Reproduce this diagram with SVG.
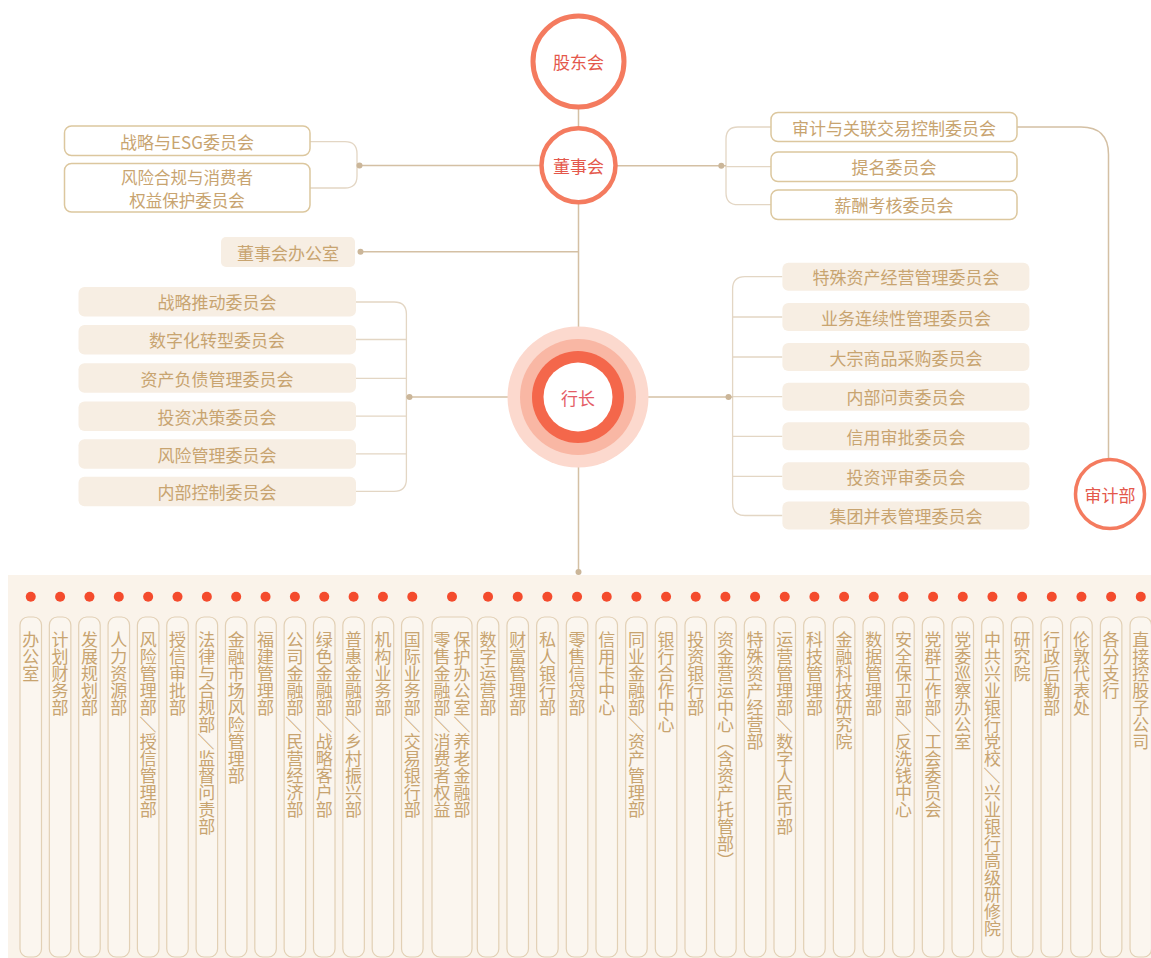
<svg xmlns="http://www.w3.org/2000/svg" width="1151" height="958" viewBox="0 0 1151 958">
<defs>
<style>
text{font-family:"Noto Sans CJK SC","Noto Sans",sans-serif;}
.t{fill:#c8a470;font-size:17px;text-anchor:middle;dominant-baseline:central;}
.t2{fill:#c8a470;font-size:16.5px;text-anchor:middle;dominant-baseline:central;}
.ct{fill:#e4584c;font-size:17px;text-anchor:middle;dominant-baseline:central;}
.ob{fill:#ffffff;stroke:#dcc79e;stroke-width:1.5;}
.fb{fill:#f7eee3;}
.ln{fill:none;stroke:#d4c0a4;stroke-width:1.5;}
.br{fill:none;stroke:#e3d6c4;stroke-width:1.3;}
.dt{fill:#cbb699;}
.col{fill:#fbf6ef;stroke:#e2d0b5;stroke-width:1.2;}
.rd{fill:#f44b2d;}
.v{fill:#c8a470;font-size:17px;writing-mode:vertical-rl;text-orientation:mixed;}
.s{text-orientation:sideways;}
.ring{fill:#ffffff;stroke:#f47b5f;}
</style>
</defs>
<rect x="0" y="0" width="1151" height="958" fill="#ffffff"/>
<rect x="8" y="575" width="1143" height="383" fill="#faf3ea"/>

<g id="connectors">
<line class="ln" x1="578.5" y1="105" x2="578.5" y2="572"/>
<circle class="dt" cx="578.5" cy="572" r="3"/>
<path class="br" d="M310,141.7 H345 Q357,141.7 357,153.7 V176 Q357,188 345,188 H310"/>
<line class="ln" x1="359.5" y1="165.5" x2="541" y2="165.5"/>
<circle class="dt" cx="359.5" cy="165.5" r="3"/>
<path class="br" d="M771,127 H738 Q726,127 726,139 V192.7 Q726,204.7 738,204.7 H771 M726,166.7 H771"/>
<line class="ln" x1="615" y1="165.7" x2="726" y2="165.7"/>
<circle class="dt" cx="721.3" cy="165.7" r="3"/>
<line class="ln" x1="360.5" y1="251.7" x2="578.5" y2="251.7"/>
<circle class="dt" cx="360.5" cy="251.7" r="3"/>
<path class="ln" d="M1017,127 H1081 Q1108.5,127 1108.5,154.5 V460"/>
<path class="br" d="M356,302 H394 Q406.4,302 406.4,314 V479 Q406.4,491.3 394,491.3 H356 M356,339.5 H406.4 M356,378.3 H406.4 M356,416.2 H406.4 M356,453.8 H406.4"/>
<line class="ln" x1="406.4" y1="397" x2="510" y2="397"/>
<circle class="dt" cx="409.5" cy="397" r="3"/>
<path class="br" d="M782.4,276.7 H745 Q732.6,276.7 732.6,289 V503 Q732.6,515.5 745,515.5 H782.4 M732.6,317 H782.4 M732.6,357 H782.4 M732.6,396.7 H782.4 M732.6,436.3 H782.4 M732.6,476.3 H782.4"/>
<line class="ln" x1="646" y1="397" x2="732.6" y2="397"/>
<circle class="dt" cx="728.5" cy="397" r="3"/>
</g>

<g id="gudonghui">
<circle class="ring" cx="578.5" cy="61.5" r="45.5" stroke-width="5"/>
<text class="ct" x="578.5" y="61.5">股东会</text>
</g>
<g id="dongshihui">
<circle class="ring" cx="578.5" cy="165.3" r="37" stroke-width="4.5"/>
<text class="ct" x="578.5" y="165.3">董事会</text>
</g>
<g id="hangzhang">
<circle cx="578" cy="397" r="70.5" fill="#fcd9ce"/>
<circle cx="578" cy="397" r="58" fill="#f9b7a4"/>
<circle cx="578" cy="397" r="46" fill="#f4674b"/>
<circle cx="578" cy="397" r="34.5" fill="#ffffff"/>
<text class="ct" x="578" y="397" style="fill:#e45c66">行长</text>
</g>
<g id="shenjibu">
<circle class="ring" cx="1110" cy="494" r="34.5" stroke-width="3.5"/>
<text class="ct" x="1110" y="494">审计部</text>
</g>

<g id="board-committees-left">
<rect class="ob" x="64.5" y="126" width="245.5" height="29.5" rx="7"/>
<text class="t" x="187" y="141">战略与ESG委员会</text>
<rect class="ob" x="64.5" y="163.5" width="245.5" height="48.5" rx="7"/>
<text class="t2" x="187" y="176.5">风险合规与消费者</text>
<text class="t2" x="187" y="199.5">权益保护委员会</text>
</g>
<g id="board-committees-right">
<rect class="ob" x="771" y="112.5" width="246" height="29" rx="7"/>
<text class="t" x="894" y="127">审计与关联交易控制委员会</text>
<rect class="ob" x="771" y="152" width="246" height="29.5" rx="7"/>
<text class="t" x="894" y="166.7">提名委员会</text>
<rect class="ob" x="771" y="190" width="246" height="29.5" rx="7"/>
<text class="t" x="894" y="204.7">薪酬考核委员会</text>
</g>
<g id="board-office">
<rect class="fb" x="221" y="237" width="134" height="30" rx="5"/>
<text class="t" x="288" y="252">董事会办公室</text>
</g>

<g id="president-committees-left">
<rect class="fb" x="78.5" y="287" width="277.5" height="29.5" rx="6"/>
<text class="t" x="217" y="301.7">战略推动委员会</text>
<rect class="fb" x="78.5" y="325" width="277.5" height="29.5" rx="6"/>
<text class="t" x="217" y="339.7">数字化转型委员会</text>
<rect class="fb" x="78.5" y="363.3" width="277.5" height="29.5" rx="6"/>
<text class="t" x="217" y="378">资产负债管理委员会</text>
<rect class="fb" x="78.5" y="401.5" width="277.5" height="29.5" rx="6"/>
<text class="t" x="217" y="416.2">投资决策委员会</text>
<rect class="fb" x="78.5" y="439.3" width="277.5" height="29.5" rx="6"/>
<text class="t" x="217" y="454">风险管理委员会</text>
<rect class="fb" x="78.5" y="476.7" width="277.5" height="29.5" rx="6"/>
<text class="t" x="217" y="491.4">内部控制委员会</text>
</g>
<g id="president-committees-right">
<rect class="fb" x="782.4" y="262.7" width="247" height="28" rx="6"/>
<text class="t" x="906" y="276.7">特殊资产经营管理委员会</text>
<rect class="fb" x="782.4" y="303" width="247" height="28" rx="6"/>
<text class="t" x="906" y="317">业务连续性管理委员会</text>
<rect class="fb" x="782.4" y="343" width="247" height="28" rx="6"/>
<text class="t" x="906" y="357">大宗商品采购委员会</text>
<rect class="fb" x="782.4" y="382.7" width="247" height="28" rx="6"/>
<text class="t" x="906" y="396.7">内部问责委员会</text>
<rect class="fb" x="782.4" y="422.3" width="247" height="28" rx="6"/>
<text class="t" x="906" y="436.3">信用审批委员会</text>
<rect class="fb" x="782.4" y="462.3" width="247" height="28" rx="6"/>
<text class="t" x="906" y="476.3">投资评审委员会</text>
<rect class="fb" x="782.4" y="501.5" width="247" height="28" rx="6"/>
<text class="t" x="906" y="515.5">集团并表管理委员会</text>
</g>

<g id="departments">
<g id="d1"><circle class="rd" cx="30.75" cy="596.7" r="5"/><rect class="col" x="20" y="617" width="21.5" height="340" rx="8"/><text class="v" x="30.75" y="631">办公室</text></g>
<g id="d2"><circle class="rd" cx="60.1" cy="596.7" r="5"/><rect class="col" x="49.35" y="617" width="21.5" height="340" rx="8"/><text class="v" x="60.1" y="631">计划财务部</text></g>
<g id="d3"><circle class="rd" cx="89.45" cy="596.7" r="5"/><rect class="col" x="78.7" y="617" width="21.5" height="340" rx="8"/><text class="v" x="89.45" y="631">发展规划部</text></g>
<g id="d4"><circle class="rd" cx="118.8" cy="596.7" r="5"/><rect class="col" x="108.05" y="617" width="21.5" height="340" rx="8"/><text class="v" x="118.8" y="631">人力资源部</text></g>
<g id="d5"><circle class="rd" cx="148.15" cy="596.7" r="5"/><rect class="col" x="137.4" y="617" width="21.5" height="340" rx="8"/><text class="v" x="148.15" y="631">风险管理部<tspan class="s">／</tspan>授信管理部</text></g>
<g id="d6"><circle class="rd" cx="177.5" cy="596.7" r="5"/><rect class="col" x="166.75" y="617" width="21.5" height="340" rx="8"/><text class="v" x="177.5" y="631">授信审批部</text></g>
<g id="d7"><circle class="rd" cx="206.85" cy="596.7" r="5"/><rect class="col" x="196.1" y="617" width="21.5" height="340" rx="8"/><text class="v" x="206.85" y="631">法律与合规部<tspan class="s">／</tspan>监督问责部</text></g>
<g id="d8"><circle class="rd" cx="236.2" cy="596.7" r="5"/><rect class="col" x="225.45" y="617" width="21.5" height="340" rx="8"/><text class="v" x="236.2" y="631">金融市场风险管理部</text></g>
<g id="d9"><circle class="rd" cx="265.55" cy="596.7" r="5"/><rect class="col" x="254.8" y="617" width="21.5" height="340" rx="8"/><text class="v" x="265.55" y="631">福建管理部</text></g>
<g id="d10"><circle class="rd" cx="294.9" cy="596.7" r="5"/><rect class="col" x="284.15" y="617" width="21.5" height="340" rx="8"/><text class="v" x="294.9" y="631">公司金融部<tspan class="s">／</tspan>民营经济部</text></g>
<g id="d11"><circle class="rd" cx="324.25" cy="596.7" r="5"/><rect class="col" x="313.5" y="617" width="21.5" height="340" rx="8"/><text class="v" x="324.25" y="631">绿色金融部<tspan class="s">／</tspan>战略客户部</text></g>
<g id="d12"><circle class="rd" cx="353.6" cy="596.7" r="5"/><rect class="col" x="342.85" y="617" width="21.5" height="340" rx="8"/><text class="v" x="353.6" y="631">普惠金融部<tspan class="s">／</tspan>乡村振兴部</text></g>
<g id="d13"><circle class="rd" cx="382.95" cy="596.7" r="5"/><rect class="col" x="372.2" y="617" width="21.5" height="340" rx="8"/><text class="v" x="382.95" y="631">机构业务部</text></g>
<g id="d14"><circle class="rd" cx="412.3" cy="596.7" r="5"/><rect class="col" x="401.55" y="617" width="21.5" height="340" rx="8"/><text class="v" x="412.3" y="631">国际业务部<tspan class="s">／</tspan>交易银行部</text></g>
<g id="d15"><circle class="rd" cx="452" cy="596.7" r="5"/><rect class="col" x="432" y="617" width="40" height="340" rx="8"/><text class="v" x="442" y="631">零售金融部<tspan class="s">／</tspan>消费者权益</text><text class="v" x="462" y="631">保护办公室<tspan class="s">／</tspan>养老金融部</text></g>
<g id="d16"><circle class="rd" cx="488.05" cy="596.7" r="5"/><rect class="col" x="477.3" y="617" width="21.5" height="340" rx="8"/><text class="v" x="488.05" y="631">数字运营部</text></g>
<g id="d17"><circle class="rd" cx="517.72" cy="596.7" r="5"/><rect class="col" x="506.97" y="617" width="21.5" height="340" rx="8"/><text class="v" x="517.72" y="631">财富管理部</text></g>
<g id="d18"><circle class="rd" cx="547.39" cy="596.7" r="5"/><rect class="col" x="536.64" y="617" width="21.5" height="340" rx="8"/><text class="v" x="547.39" y="631">私人银行部</text></g>
<g id="d19"><circle class="rd" cx="577.06" cy="596.7" r="5"/><rect class="col" x="566.31" y="617" width="21.5" height="340" rx="8"/><text class="v" x="577.06" y="631">零售信贷部</text></g>
<g id="d20"><circle class="rd" cx="606.73" cy="596.7" r="5"/><rect class="col" x="595.98" y="617" width="21.5" height="340" rx="8"/><text class="v" x="606.73" y="631">信用卡中心</text></g>
<g id="d21"><circle class="rd" cx="636.4" cy="596.7" r="5"/><rect class="col" x="625.65" y="617" width="21.5" height="340" rx="8"/><text class="v" x="636.4" y="631">同业金融部<tspan class="s">／</tspan>资产管理部</text></g>
<g id="d22"><circle class="rd" cx="666.07" cy="596.7" r="5"/><rect class="col" x="655.32" y="617" width="21.5" height="340" rx="8"/><text class="v" x="666.07" y="631">银行合作中心</text></g>
<g id="d23"><circle class="rd" cx="695.74" cy="596.7" r="5"/><rect class="col" x="684.99" y="617" width="21.5" height="340" rx="8"/><text class="v" x="695.74" y="631">投资银行部</text></g>
<g id="d24"><circle class="rd" cx="725.41" cy="596.7" r="5"/><rect class="col" x="714.66" y="617" width="21.5" height="340" rx="8"/><text class="v" x="725.41" y="631">资金营运中心（含资产托管部）</text></g>
<g id="d25"><circle class="rd" cx="755.08" cy="596.7" r="5"/><rect class="col" x="744.33" y="617" width="21.5" height="340" rx="8"/><text class="v" x="755.08" y="631">特殊资产经营部</text></g>
<g id="d26"><circle class="rd" cx="784.75" cy="596.7" r="5"/><rect class="col" x="774" y="617" width="21.5" height="340" rx="8"/><text class="v" x="784.75" y="631">运营管理部<tspan class="s">／</tspan>数字人民币部</text></g>
<g id="d27"><circle class="rd" cx="814.42" cy="596.7" r="5"/><rect class="col" x="803.67" y="617" width="21.5" height="340" rx="8"/><text class="v" x="814.42" y="631">科技管理部</text></g>
<g id="d28"><circle class="rd" cx="844.09" cy="596.7" r="5"/><rect class="col" x="833.34" y="617" width="21.5" height="340" rx="8"/><text class="v" x="844.09" y="631">金融科技研究院</text></g>
<g id="d29"><circle class="rd" cx="873.76" cy="596.7" r="5"/><rect class="col" x="863.01" y="617" width="21.5" height="340" rx="8"/><text class="v" x="873.76" y="631">数据管理部</text></g>
<g id="d30"><circle class="rd" cx="903.43" cy="596.7" r="5"/><rect class="col" x="892.68" y="617" width="21.5" height="340" rx="8"/><text class="v" x="903.43" y="631">安全保卫部<tspan class="s">／</tspan>反洗钱中心</text></g>
<g id="d31"><circle class="rd" cx="933.1" cy="596.7" r="5"/><rect class="col" x="922.35" y="617" width="21.5" height="340" rx="8"/><text class="v" x="933.1" y="631">党群工作部<tspan class="s">／</tspan>工会委员会</text></g>
<g id="d32"><circle class="rd" cx="962.77" cy="596.7" r="5"/><rect class="col" x="952.02" y="617" width="21.5" height="340" rx="8"/><text class="v" x="962.77" y="631">党委巡察办公室</text></g>
<g id="d33"><circle class="rd" cx="992.44" cy="596.7" r="5"/><rect class="col" x="981.69" y="617" width="21.5" height="340" rx="8"/><text class="v" x="992.44" y="631">中共兴业银行党校<tspan class="s">／</tspan>兴业银行高级研修院</text></g>
<g id="d34"><circle class="rd" cx="1022.11" cy="596.7" r="5"/><rect class="col" x="1011.36" y="617" width="21.5" height="340" rx="8"/><text class="v" x="1022.11" y="631">研究院</text></g>
<g id="d35"><circle class="rd" cx="1051.78" cy="596.7" r="5"/><rect class="col" x="1041.03" y="617" width="21.5" height="340" rx="8"/><text class="v" x="1051.78" y="631">行政后勤部</text></g>
<g id="d36"><circle class="rd" cx="1081.45" cy="596.7" r="5"/><rect class="col" x="1070.7" y="617" width="21.5" height="340" rx="8"/><text class="v" x="1081.45" y="631">伦敦代表处</text></g>
<g id="d37"><circle class="rd" cx="1111.12" cy="596.7" r="5"/><rect class="col" x="1100.37" y="617" width="21.5" height="340" rx="8"/><text class="v" x="1111.12" y="631">各分支行</text></g>
<g id="d38"><circle class="rd" cx="1140.79" cy="596.7" r="5"/><rect class="col" x="1130.04" y="617" width="21.5" height="340" rx="8"/><text class="v" x="1140.79" y="631">直接控股子公司</text></g>
</g>
</svg>
